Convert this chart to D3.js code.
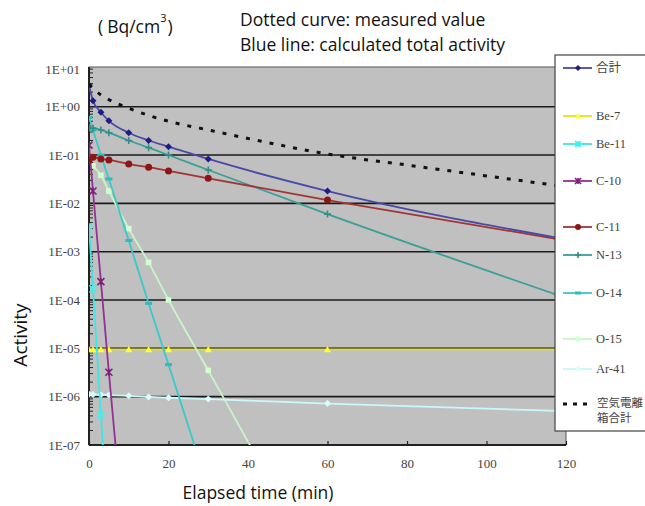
<!DOCTYPE html>
<html><head><meta charset="utf-8">
<script src="https://cdn.jsdelivr.net/npm/d3@7"></script>
<style>body{margin:0;background:#fff}svg{display:block}</style>
</head><body>
<svg id="c" width="645" height="506"></svg>
<script>
// ---- data ----
const times = [0, 1, 3, 5, 10, 15, 20, 30, 60, 120];
const total = [2.8, 1.33, 0.77, 0.51, 0.29, 0.20, 0.149, 0.083, 0.018, 0.0018];
const be7 = [0.95e-5, 0.95e-5, 0.95e-5, 0.95e-5, 0.95e-5, 0.95e-5, 0.95e-5, 0.95e-5, 0.95e-5, 0.95e-5];
const be11 = [3.3e-3, 1.7e-4, 4.2e-7, 1e-9];
const c10 = [0.16, 0.018, 2.4e-4, 3.2e-6, 1e-10];
const c11 = [0.077, 0.09, 0.083, 0.079, 0.065, 0.056, 0.047, 0.033, 0.0117, 0.0017];
const n13 = [0.37, 0.36, 0.33, 0.29, 0.20, 0.142, 0.10, 0.049, 0.006, 0.00011];
const o14 = [0.6, 0.33, 0.1, 0.032, 1.7e-3, 8.5e-5, 4.6e-6, 1.3e-8];
const o15 = [0.075, 0.06, 0.038, 0.018, 3e-3, 6e-4, 1e-4, 3.5e-6, 1.3e-10];
const ar41 = [1.12e-6, 1.11e-6, 1.09e-6, 1.08e-6, 1.04e-6, 0.99e-6, 0.95e-6, 0.89e-6, 0.72e-6, 0.5e-6];
const measuredTimes = [0, 1, 3, 5, 10, 15, 20, 30, 40, 60, 80, 100, 120];
const measured = [2.9, 2.4, 1.75, 1.4, 0.93, 0.66, 0.5, 0.33, 0.22, 0.105, 0.062, 0.037, 0.022];
const seriesNames = ["合計", "Be-7", "Be-11", "C-10", "C-11", "N-13", "O-14", "O-15", "Ar-41"];
const measuredName = ["空気電離", "箱合計"];
const xTicks = [0, 20, 40, 60, 80, 100, 120];
const yTicks = [10, 1, 1e-1, 1e-2, 1e-3, 1e-4, 1e-5, 1e-6, 1e-7];
const yTickLabels = ["1E+01", "1E+00", "1E-01", "1E-02", "1E-03", "1E-04", "1E-05", "1E-06", "1E-07"];

// ---- styles ----
const styles = [
  {line: "#4a4aa6", fill: "#1c1c8a", shape: "diamond"},
  {line: "#e4e41a", fill: "#ffff33", shape: "triangle"},
  {line: "#3fe6e6", fill: "#3ff0f0", shape: "cross"},
  {line: "#933193", fill: "#7d1f7d", shape: "cross"},
  {line: "#a33434", fill: "#8e1515", shape: "circle"},
  {line: "#3a9f97", fill: "#2f8f88", shape: "plus"},
  {line: "#3cc8c8", fill: "#2fbcbc", shape: "dash"},
  {line: "#c8f5c8", fill: "#d0ffd0", shape: "square"},
  {line: "#c8f8f8", fill: "#d8ffff", shape: "diamond"}
];
const seriesVals = [total, be7, be11, c10, c11, n13, o14, o15, ar41];

const svg = d3.select("#c");
const L = 89, R = 566, T = 67, B = 445;
const x = d3.scaleLinear().domain([0, 120]).range([L, R]);
const y = d3.scaleLog().domain([1e-7, 1]).range([B, 106.7]);
const yTop = y.invert(T);

svg.append("defs").append("clipPath").attr("id", "pc")
  .append("rect").attr("x", L).attr("y", T).attr("width", R - L).attr("height", B - T);

// plot background
svg.append("rect").attr("x", L).attr("y", T).attr("width", R - L).attr("height", B - T)
  .attr("fill", "#c0c0c0").attr("stroke", "#555").attr("stroke-width", 1);

// gridlines
const grid = yTicks.filter(v => v > 1e-7 && v <= 1);
svg.append("g").selectAll("line").data(grid).join("line")
  .attr("x1", L).attr("x2", R).attr("y1", d => y(d)).attr("y2", d => y(d))
  .attr("stroke", "#1a1a1a").attr("stroke-width", 1.6);

// minor y ticks
const minor = [];
for (let e = -7; e <= 0; e++) for (let k = 1; k <= 9; k++) {
  const v = k * Math.pow(10, e);
  if (v <= yTop) minor.push(v);
}
svg.append("g").selectAll("line").data(minor).join("line")
  .attr("x1", L).attr("x2", d => L + (Math.abs(Math.log10(d) - Math.round(Math.log10(d))) < 1e-9 ? 6 : 4))
  .attr("y1", d => y(d)).attr("y2", d => y(d))
  .attr("stroke", "#222").attr("stroke-width", 1);

// axes lines
svg.append("line").attr("x1", L).attr("x2", L).attr("y1", T).attr("y2", B).attr("stroke", "#222").attr("stroke-width", 2);
svg.append("line").attr("x1", L).attr("x2", R).attr("y1", B).attr("y2", B).attr("stroke", "#222").attr("stroke-width", 2);

// x axis ticks and labels
const xg = svg.append("g").attr("transform", `translate(0,${B})`)
  .call(d3.axisBottom(x).tickValues(xTicks).tickSize(-4).tickPadding(14).tickFormat(d3.format("d")));
xg.select(".domain").remove();
xg.selectAll(".tick line").attr("stroke", "#222").attr("stroke-width", 1.2);
xg.selectAll(".tick text").attr("font-family", "Liberation Serif, serif").attr("font-size", 13).attr("fill", "#444");

// y labels
svg.append("g").selectAll("text").data(yTicks).join("text")
  .attr("x", 80).attr("y", d => Math.max(y(d), T + 2)).attr("dy", "0.35em")
  .attr("text-anchor", "end").attr("font-family", "Liberation Serif, serif").attr("font-size", 13)
  .attr("fill", "#444").text((d, i) => yTickLabels[i]);

// lines
const lineGen = d3.line().x(d => x(d[0])).y(d => y(d[1])).curve(d3.curveMonotoneX);
const plot = svg.append("g").attr("clip-path", "url(#pc)");
const order = [8, 1, 7, 2, 3, 6, 5, 4, 0];
function markerPath(shape, s) {
  switch (shape) {
    case "diamond": return `M0,${-s}L${s},0L0,${s}L${-s},0Z`;
    case "triangle": return `M0,${-s}L${s},${s*0.8}L${-s},${s*0.8}Z`;
    case "square": return `M${-s*0.8},${-s*0.8}h${s*1.6}v${s*1.6}h${-s*1.6}Z`;
    default: return "";
  }
}
function drawMarker(g, shape, st, px, py, s) {
  if (shape === "circle") g.append("circle").attr("cx", px).attr("cy", py).attr("r", s).attr("fill", st.fill);
  else if (shape === "cross") g.append("path").attr("d", `M${px-s},${py-s}L${px+s},${py+s}M${px-s},${py+s}L${px+s},${py-s}M${px},${py-s}L${px},${py+s}`).attr("stroke", st.fill).attr("stroke-width", 1.6);
  else if (shape === "plus") g.append("path").attr("d", `M${px-s},${py}L${px+s},${py}M${px},${py-s}L${px},${py+s}`).attr("stroke", st.fill).attr("stroke-width", 1.6);
  else if (shape === "dash") g.append("path").attr("d", `M${px-s},${py}L${px+s},${py}`).attr("stroke", st.fill).attr("stroke-width", 3);
  else g.append("path").attr("d", markerPath(shape, s)).attr("transform", `translate(${px},${py})`).attr("fill", st.fill);
}
order.forEach(i => {
  const pts = seriesVals[i].map((v, j) => [times[j], v]);
  plot.append("path").attr("d", lineGen(pts)).attr("fill", "none")
    .attr("stroke", styles[i].line).attr("stroke-width", 1.8);
  const mg = plot.append("g");
  pts.forEach(p => {
    const py = y(p[1]);
    if (py <= B + 5) drawMarker(mg, styles[i].shape, styles[i], x(p[0]), py, 3.5);
  });
});
// measured dotted
plot.append("path").attr("d", lineGen(measuredTimes.map((t, j) => [t, measured[j]])))
  .attr("fill", "none").attr("stroke", "#111").attr("stroke-width", 3).attr("stroke-dasharray", "4,8");

// legend
const LX = 555, LY = 55, LB = 431;
svg.append("rect").attr("x", LX).attr("y", LY).attr("width", 120).attr("height", LB - LY)
  .attr("fill", "#fff").attr("stroke", "#444").attr("stroke-width", 1.2);
const legendY = [68, 116, 144, 181, 227, 255, 293, 339, 369];
const lg = svg.append("g");
seriesNames.forEach((n, i) => {
  const ly = legendY[i];
  lg.append("line").attr("x1", 563).attr("x2", 592).attr("y1", ly).attr("y2", ly)
    .attr("stroke", styles[i].line).attr("stroke-width", 1.8);
  drawMarker(lg, styles[i].shape, styles[i], 578, ly, 3);
  lg.append("text").attr("x", 596).attr("y", ly).attr("dy", "0.35em")
    .attr("font-family", i === 0 ? "Noto Sans CJK JP" : "Liberation Serif, serif")
    .attr("font-size", 12.5).attr("fill", "#444").text(n);
});
lg.append("line").attr("x1", 563).attr("x2", 592).attr("y1", 404).attr("y2", 404)
  .attr("stroke", "#111").attr("stroke-width", 3).attr("stroke-dasharray", "4,6");
measuredName.forEach((n, k) => {
  lg.append("text").attr("x", 597).attr("y", 403 + k * 15).attr("dy", "0.35em")
    .attr("font-family", "Noto Sans CJK JP").attr("font-size", 11.5).attr("fill", "#444").text(n);
});

// titles
const sans = "Open Sans, sans-serif";
svg.append("text").attr("x", 240).attr("y", 26).attr("font-family", sans).attr("font-size", 17.5)
  .attr("fill", "#111").text("Dotted curve: measured value");
svg.append("text").attr("x", 240).attr("y", 51).attr("font-family", sans).attr("font-size", 17.5)
  .attr("fill", "#111").text("Blue line: calculated total activity");
const u = svg.append("text").attr("x", 98).attr("y", 33).attr("font-family", sans).attr("font-size", 17.5).attr("fill", "#111");
u.append("tspan").text("(");
u.append("tspan").attr("dx", 4).text("Bq/cm");
u.append("tspan").attr("font-size", 11).attr("dy", -11).text("3");
u.append("tspan").attr("dy", 11).attr("dx", 1).text(")");
svg.append("text").attr("transform", "translate(27,335) rotate(-90)").attr("text-anchor", "middle")
  .attr("font-family", sans).attr("font-size", 19).attr("fill", "#111").text("Activity");
svg.append("text").attr("x", 258).attr("y", 499).attr("text-anchor", "middle")
  .attr("font-family", sans).attr("font-size", 17.5).attr("fill", "#111").text("Elapsed time (min)");
</script>
</body></html>
